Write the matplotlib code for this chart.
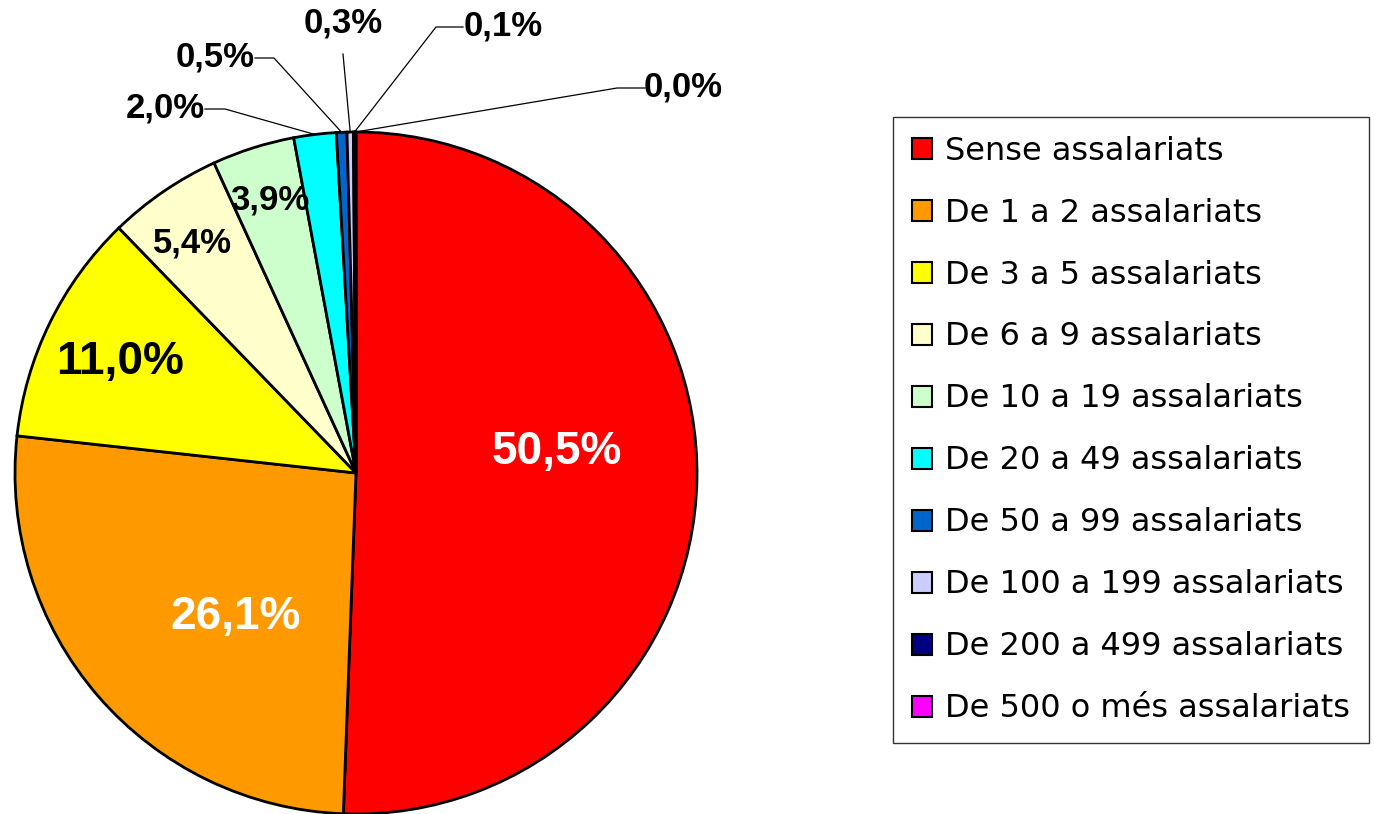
"""
Pie chart: distribution of companies by number of employees
"""
from matplotlib import pyplot as plt
import numpy as np

CATEGORIES = ['Sense assalariats', 'De 1 a 2 assalariats', 'De 3 a 5 assalariats',
              'De 6 a 9 assalariats', 'De 10 a 19 assalariats', 'De 20 a 49 assalariats',
              'De 50 a 99 assalariats', 'De 100 a 199 assalariats',
              'De 200 a 499 assalariats', 'De 500 o més assalariats']
SHARES = [50.5, 26.1, 11.0, 5.4, 3.9, 2.0, 0.5, 0.3, 0.1, 0.02]
LABELS = ['50,5%', '26,1%', '11,0%', '5,4%', '3,9%', '2,0%', '0,5%', '0,3%', '0,1%', '0,0%']
COLOURS = ['#FF0000', '#FF9900', '#FFFF00', '#FFFFCC', '#CCFFCC',
           '#00FFFF', '#0066CC', '#CCCCFF', '#000080', '#FF00FF']

W, H = 1374, 814
CX, CY, R = 356, 473, 341

# label layout in pixels
INSIDE = {0: (557, 452, 'white', 33), 1: (236, 617, 'white', 33),
          2: (120, 362, 'black', 33), 3: (192, 243, 'black', 25),
          4: (270, 200, 'black', 25)}
OUTSIDE = {5: (165, 108, 205, 225), 6: (215, 57, 255, 274),
           7: (343, 23, 343, 343), 8: (503, 26, 463, 436), 9: (683, 87, 645, 617)}


def px(x, y):
    """pixel coordinates -> data coordinates (pie radius = 1)"""
    return (x - CX) / R, (CY - y) / R


fig = plt.figure(figsize=(W / 100, H / 100), dpi=100)
ax = fig.add_axes([0, 0, 1, 1])
wedges, _ = ax.pie(SHARES, colors=COLOURS, startangle=90, counterclock=False,
                   wedgeprops={'edgecolor': 'black', 'linewidth': 2})
ax.set_xlim(-CX / R, (W - CX) / R)
ax.set_ylim(-(H - CY) / R, CY / R)
ax.set_aspect('equal')
ax.axis('off')

for i, (x, y, col, size) in INSIDE.items():
    ax.text(*px(x, y), LABELS[i], color=col, fontsize=size, fontweight='bold',
            ha='center', va='center', family=['Liberation Sans', 'DejaVu Sans'])

for i, (x, y, edge_x, elbow_x) in OUTSIDE.items():
    ax.text(*px(x, y), LABELS[i], color='black', fontsize=25, fontweight='bold',
            ha='center', va='center', family=['Liberation Sans', 'DejaVu Sans'])
    w = wedges[i]
    mid = np.deg2rad((w.theta1 + w.theta2) / 2)
    ex, ey = np.cos(mid), np.sin(mid)
    if i == 7:
        p0 = px(edge_x, 54)
        p1 = p0
    else:
        p0 = px(edge_x, y + 1)
        p1 = px(elbow_x, y + 1)
    ax.plot([p0[0], p1[0], ex], [p0[1], p1[1], ey], color='black', linewidth=0.9)

leg = ax.legend(wedges, CATEGORIES, loc='upper left',
                bbox_to_anchor=(893 / W, 1 - 117 / H), bbox_transform=fig.transFigure,
                borderaxespad=0, fancybox=False, frameon=True, edgecolor='black',
                prop={'family': 'DejaVu Sans', 'size': 23},
                handlelength=0.63, handleheight=0.63, handletextpad=0.42,
                labelspacing=0.97, borderpad=0.58)
leg.get_frame().set_linewidth(1.0)
for h in leg.legend_handles:
    h.set_linewidth(1.5)

fig.savefig('out.png', dpi=100)
